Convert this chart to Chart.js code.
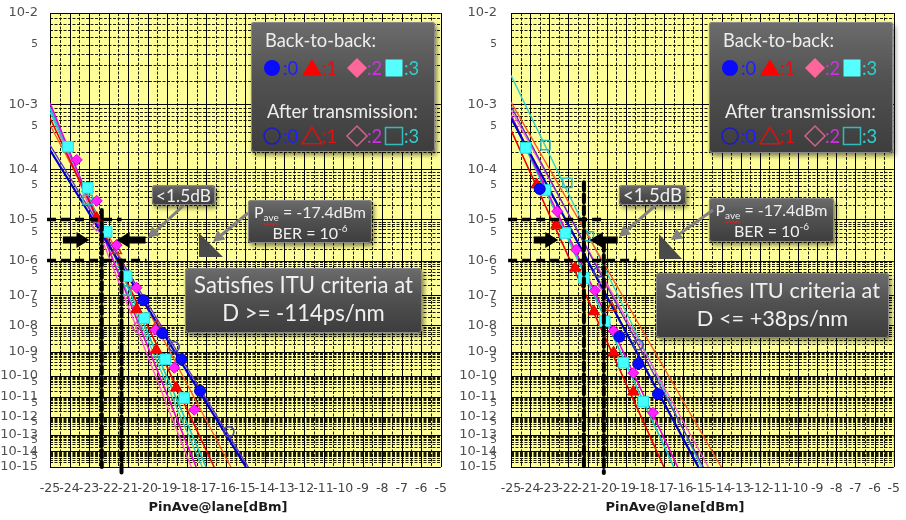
<!DOCTYPE html>
<html>
<head>
<meta charset="utf-8">
<title>BER vs received power</title>
<script src="https://cdn.jsdelivr.net/npm/chart.js@4.4.1/dist/chart.umd.min.js"></script>
<style>
  html, body { margin: 0; padding: 0; background: #fff; }
  #page { position: relative; width: 906px; height: 520px; overflow: hidden; }
  canvas { position: absolute; top: 0; }
</style>
</head>
<body>
<div id="page">
  <canvas id="chartLeft" width="453" height="520" style="left:0"></canvas>
  <canvas id="chartRight" width="453" height="520" style="left:453px"></canvas>
</div>
<script>
// axis ranges
const xMin = -25, xMax = -5;
const berTop = 1e-2, berBottom = 1e-15;
const berDecades = [2, 3, 4, 5, 6, 7, 8, 9, 10, 11, 12, 13, 14, 15];

// series order everywhere: back-to-back lane 0..3, after transmission lane 0..3

// ---- left panel (D >= -114ps/nm) ----
const leftB2B0X = [-20.22, -19.25, -18.28, -17.32];
const leftB2B0Ber = [7e-8, 5.2e-9, 5e-10, 2e-11];
const leftB2B1X = [-22.61, -20.58, -19.56, -18.54];
const leftB2B1Ber = [1.07e-5, 3.5e-8, 1.2e-9, 2.8e-11];
const leftB2B2X = [-23.63, -22.61, -21.59, -20.57, -19.6, -18.64, -17.62];
const leftB2B2Ber = [1.45e-4, 2.5e-5, 2.5e-6, 1.7e-7, 7e-9, 2.2e-10, 2.3e-12];
const leftB2B3X = [-24.08, -23.07, -22.1, -21.08, -20.17, -19.1, -18.13];
const leftB2B3Ber = [2.4e-4, 4.5e-5, 5.2e-6, 3.7e-7, 1.8e-8, 5e-10, 9e-12];
const leftTx0X = [-18.64, -15.84];
const leftTx0Ber = [1.6e-9, 1.5e-13];
const leftTx1X = [-21.59, -19.56];
const leftTx1Ber = [1.8e-6, 9.5e-9];
const leftTx2X = [-22.61, -20.57];
const leftTx2Ber = [7.2e-6, 8.5e-9];
const leftTx3X = [-23.07, -21.08];
const leftTx3Ber = [2.6e-5, 1.4e-7];
// fitted lines: BER at the left edge, power where they reach 1e-15
const leftFitStartBer = [2.12e-4, 6.5e-4, 1.04e-3, 8.9e-4, 2.55e-4, 5.2e-4, 9.2e-4, 7.9e-4];
const leftFitEndX = [-14.97, -16.6, -17.52, -17.01, -14.85, -15.74, -17.77, -17.21];

// ---- right panel (D <= +38ps/nm) ----
const rightB2B0X = [-23.5, -19.33, -18.35, -17.32];
const rightB2B0Ber = [4.3e-5, 3.9e-9, 3.3e-10, 1.4e-11];
const rightB2B1X = [-23.66, -22.63, -21.65, -20.67, -19.64, -18.61];
const rightB2B1Ber = [5.2e-5, 7.5e-6, 6.3e-7, 3e-8, 9.3e-10, 1.8e-11];
const rightB2B2X = [-22.58, -21.6, -20.62, -19.64, -18.61, -17.58];
const rightB2B2Ber = [1.5e-5, 1.9e-6, 1.4e-7, 6.3e-9, 1.3e-10, 1.6e-12];
const rightB2B3X = [-24.23, -23.2, -22.16, -21.19, -20.1, -19.12, -18.09];
const rightB2B3Ber = [2.3e-4, 4.1e-5, 4.9e-6, 3.3e-7, 1.4e-8, 3.6e-10, 6e-12];
const rightTx0X = [-20.41, -18.35];
const rightTx0Ber = [4.9e-7, 1.9e-9];
const rightTx1X = [-19.74];
const rightTx1Ber = [4e-8];
const rightTx2X = [-20.2];
const rightTx2Ber = [2e-7];
const rightTx3X = [-23.2, -22.06, -20.93];
const rightTx3Ber = [2.55e-4, 5.6e-5, 4.1e-6];
const rightFitStartBer = [6.5e-4, 4.35e-4, 7.2e-4, 6.9e-4, 9.5e-4, 1.07e-3, 8.4e-4, 2.3e-3];
const rightFitEndX = [-15.21, -17.01, -16.29, -16.49, -14.95, -14.02, -14.69, -15.05];

// BER axis: log10(-log10(BER)), drawn downwards
const yv = ber => Math.log10(-Math.log10(ber));

const styles = [
  { ps: 'circle',   r: 5.5, fill: '#0a0aff', edge: '#0000c0', line: '#0000cc', lw: 2.2 },
  { ps: 'triangle', r: 6.5, fill: '#ff0000', edge: '#e00000', line: '#e80000', lw: 1.6 },
  { ps: 'rectRot',  r: 5.5, fill: '#ff22ff', edge: '#e000e0', line: '#e600e6', lw: 1.6 },
  { ps: 'rect',     r: 7.5, fill: '#44ffff', edge: '#22dede', line: '#10c8d0', lw: 1.6 },
  { ps: 'circle',   r: 5,   fill: 'rgba(0,0,0,0)', edge: '#4040b0', line: '#5b2fc8', lw: 1.3 },
  { ps: 'triangle', r: 5.5, fill: 'rgba(0,0,0,0)', edge: '#cc3300', line: '#ff5522', lw: 1.3 },
  { ps: 'rectRot',  r: 5,   fill: 'rgba(0,0,0,0)', edge: '#cc55aa', line: '#ff55e0', lw: 1.3 },
  { ps: 'rect',     r: 6.5, fill: 'rgba(0,0,0,0)', edge: '#30b8b8', line: '#30d0d0', lw: 1.3 }
];

function buildDatasets(xs, bers, fitStart, fitEnd) {
  const out = [];
  xs.forEach((xArr, i) => {
    const s = styles[i];
    out.push({
      data: xArr.map((x, k) => ({ x, y: yv(bers[i][k]) })),
      showLine: false, pointStyle: s.ps, pointRadius: s.r,
      backgroundColor: s.fill, borderColor: s.edge, borderWidth: i < 4 ? 1 : 1.5,
      order: 0
    });
    out.push({
      data: [{ x: xMin, y: yv(fitStart[i]) }, { x: fitEnd[i], y: yv(berBottom) }],
      showLine: true, pointRadius: 0, borderColor: s.line, borderWidth: s.lw,
      order: 1
    });
  });
  return out;
}

// yellow plot area with the log-paper grid
const bgGrid = {
  id: 'bgGrid',
  beforeDatasetsDraw(chart) {
    const { ctx, chartArea: a, scales: { x, y } } = chart;
    ctx.save();
    ctx.fillStyle = '#ffff99';
    ctx.fillRect(a.left, a.top, a.width, a.height);
    ctx.lineWidth = 1;
    ctx.strokeStyle = '#1a1a00';
    ctx.setLineDash([3, 1.5]);
    ctx.beginPath();
    for (const d of berDecades) {
      for (let m = 2; m <= 9; m++) {
        const ber = m * Math.pow(10, -d);
        if (ber >= berTop) continue;
        const py = Math.round(y.getPixelForValue(yv(ber))) + 0.5;
        ctx.moveTo(a.left, py); ctx.lineTo(a.right, py);
      }
    }
    for (let v = xMin + 0.5; v < xMax; v += 1) {
      const px = Math.round(x.getPixelForValue(v)) + 0.5;
      ctx.moveTo(px, a.top); ctx.lineTo(px, a.bottom);
    }
    ctx.stroke();
    ctx.setLineDash([]);
    ctx.strokeStyle = '#000';
    ctx.beginPath();
    for (const d of berDecades) {
      const py = Math.round(y.getPixelForValue(yv(Math.pow(10, -d)))) + 0.5;
      ctx.moveTo(a.left, py); ctx.lineTo(a.right, py);
    }
    for (let v = xMin; v <= xMax; v += 1) {
      const px = Math.round(x.getPixelForValue(v)) + 0.5;
      ctx.moveTo(px, a.top); ctx.lineTo(px, a.bottom);
    }
    ctx.stroke();
    ctx.restore();
  }
};

function grayBox(ctx, x, y, w, h) {
  ctx.save();
  ctx.shadowColor = 'rgba(0,0,0,0.5)';
  ctx.shadowBlur = 5; ctx.shadowOffsetX = 2; ctx.shadowOffsetY = 3;
  const g = ctx.createLinearGradient(0, y, 0, y + h);
  g.addColorStop(0, '#6c6c6c'); g.addColorStop(0.45, '#515151'); g.addColorStop(1, '#3d3d3d');
  ctx.fillStyle = g;
  ctx.beginPath(); ctx.roundRect(x, y, w, h, 3); ctx.fill();
  ctx.restore();
  ctx.save();
  ctx.strokeStyle = '#8a8a8a'; ctx.lineWidth = 1;
  ctx.beginPath(); ctx.roundRect(x + 0.5, y + 0.5, w - 1, h - 1, 3); ctx.stroke();
  ctx.restore();
}

function fitSize(ctx, text, width, family) {
  ctx.font = '20px ' + family;
  return 20 * width / ctx.measureText(text).width;
}

function shape(ctx, kind, cx, cy, s) {
  ctx.beginPath();
  if (kind === 'circle') ctx.arc(cx, cy, s, 0, Math.PI * 2);
  else if (kind === 'triangle') {
    ctx.moveTo(cx, cy - s); ctx.lineTo(cx + s * 1.1, cy + s * 0.85); ctx.lineTo(cx - s * 1.1, cy + s * 0.85); ctx.closePath();
  } else if (kind === 'rectRot') {
    ctx.moveTo(cx, cy - s); ctx.lineTo(cx + s, cy); ctx.lineTo(cx, cy + s); ctx.lineTo(cx - s, cy); ctx.closePath();
  } else ctx.rect(cx - s * 0.85, cy - s * 0.85, s * 1.7, s * 1.7);
}

function blockArrow(ctx, x1, x2, y) {
  const dir = Math.sign(x2 - x1), head = 13, half = 8, shaft = 3.5;
  const hx = x2 - dir * head;
  ctx.beginPath();
  ctx.moveTo(x1, y - shaft); ctx.lineTo(hx, y - shaft); ctx.lineTo(hx, y - half);
  ctx.lineTo(x2, y); ctx.lineTo(hx, y + half); ctx.lineTo(hx, y + shaft); ctx.lineTo(x1, y + shaft);
  ctx.closePath(); ctx.fill();
}

function grayArrow(ctx, x1, y1, x2, y2) {
  const ang = Math.atan2(y2 - y1, x2 - x1), hl = 11, hw = 6;
  const bx = x2 - hl * Math.cos(ang), by = y2 - hl * Math.sin(ang);
  ctx.strokeStyle = '#808080'; ctx.fillStyle = '#808080'; ctx.lineWidth = 3;
  ctx.beginPath(); ctx.moveTo(x1, y1); ctx.lineTo(bx, by); ctx.stroke();
  ctx.beginPath(); ctx.moveTo(x2, y2);
  ctx.lineTo(bx + hw * Math.sin(ang), by - hw * Math.cos(ang));
  ctx.lineTo(bx - hw * Math.sin(ang), by + hw * Math.cos(ang));
  ctx.closePath(); ctx.fill();
}

const FONT = 'Lato, "Open Sans", sans-serif';

function makeOverlay(n) {
  return {
    id: 'overlay',
    afterDatasetsDraw(chart) {
      const { ctx, scales: { x, y } } = chart;
      ctx.save();
      // dashed guide lines
      ctx.strokeStyle = '#000';
      ctx.lineWidth = 3.5; ctx.setLineDash([9, 5]);
      n.hDash.forEach(([ber, xEnd]) => {
        const py = y.getPixelForValue(yv(ber));
        ctx.beginPath(); ctx.moveTo(x.getPixelForValue(n.hDashFrom), py); ctx.lineTo(x.getPixelForValue(xEnd), py); ctx.stroke();
      });
      ctx.lineWidth = 4; ctx.setLineDash([8, 4]); ctx.lineCap = 'round';
      n.vDash.forEach(([xv, b1, b2]) => {
        const px = x.getPixelForValue(xv);
        ctx.beginPath(); ctx.moveTo(px, y.getPixelForValue(yv(b1))); ctx.lineTo(px, y.getPixelForValue(yv(b2))); ctx.stroke();
      });
      ctx.setLineDash([]); ctx.lineCap = 'butt';
      // black arrows
      ctx.fillStyle = '#000';
      const ay = y.getPixelForValue(yv(n.arrowBer));
      n.blockArrows.forEach(([a, b]) => blockArrow(ctx, x.getPixelForValue(a), x.getPixelForValue(b), ay));

      // callout triangle
      ctx.fillStyle = '#4a4a4a';
      ctx.beginPath(); n.tri.forEach(([tx, ty], i) => i ? ctx.lineTo(tx, ty) : ctx.moveTo(tx, ty)); ctx.closePath(); ctx.fill();

      // legend box
      const [lx, ly, lw, lh] = n.legendBox;
      grayBox(ctx, lx, ly, lw, lh);
      const fs = fitSize(ctx, 'After transmission:', 151, FONT);
      ctx.font = fs + 'px ' + FONT;
      ctx.textAlign = 'left'; ctx.textBaseline = 'alphabetic';
      ctx.fillStyle = '#eeeeee';
      ctx.fillText('Back-to-back:', lx + 14, ly + 25);
      ctx.fillText('After transmission:', lx + 16, ly + 96);
      const cols = [21, 61, 106, 143], tcols = [32, 71, 116, 153];
      const fillLeg = ['#0a0aff', '#ff0000', '#ff6699', '#55ffff'];
      const edgeLeg = ['#1a1acc', '#dd1111', '#cc6688', '#33bbbb'];
      const txtLeg = ['#1f1fff', '#e01010', '#cc33dd', '#33cccc'];
      const kinds = ['circle', 'triangle', 'rectRot', 'rect'];
      for (let i = 0; i < 4; i++) {
        const s = kinds[i] === 'circle' ? 8 : kinds[i] === 'triangle' ? 9 : 10;
        shape(ctx, kinds[i], lx + cols[i], ly + 46, s);
        ctx.fillStyle = fillLeg[i]; ctx.fill();
        shape(ctx, kinds[i], lx + cols[i], ly + 114, s);
        ctx.strokeStyle = edgeLeg[i]; ctx.lineWidth = 1.5; ctx.stroke();
        ctx.fillStyle = txtLeg[i];
        ctx.fillText(':' + i, lx + tcols[i], ly + 53);
        ctx.fillText(':' + i, lx + tcols[i], ly + 121);
      }

      // "<1.5dB"
      const [dx, dy, dw, dh] = n.dbBox;
      grayBox(ctx, dx, dy, dw, dh);
      ctx.font = fitSize(ctx, '<1.5dB', dw - 8, FONT) + 'px ' + FONT;
      ctx.fillStyle = '#f0f0f0'; ctx.textAlign = 'center';
      ctx.fillText('<1.5dB', dx + dw / 2, dy + dh - 3);

      // Pave / BER box
      const [px0, py0, pw] = n.paveBox;
      grayBox(ctx, ...n.paveBox);
      const big = '16px ' + FONT, small = '10px ' + FONT;
      ctx.textAlign = 'left';
      ctx.font = big; const wP = ctx.measureText('P').width, wRest = ctx.measureText(' = -17.4dBm').width;
      ctx.font = small; const wSub = ctx.measureText('ave').width;
      let tx = px0 + (pw - wP - wSub - wRest) / 2;
      const b1 = py0 + 18;
      ctx.fillStyle = '#f0f0f0';
      ctx.font = big; ctx.fillText('P', tx, b1);
      ctx.font = small; ctx.fillText('ave', tx + wP, b1 + 3);
      ctx.strokeStyle = '#e02020'; ctx.lineWidth = 1;
      ctx.beginPath();
      for (let k = 0; k <= wSub; k += 2) ctx.lineTo(tx + wP + k, b1 + 6 + (k % 4 ? 1.2 : -1.2));
      ctx.stroke();
      ctx.font = big; ctx.fillText(' = -17.4dBm', tx + wP + wSub, b1);
      const wB = ctx.measureText('BER = 10').width;
      ctx.font = small; const wE = ctx.measureText('-6').width;
      tx = px0 + (pw - wB - wE) / 2;
      ctx.font = big; ctx.fillText('BER = 10', tx, py0 + 39);
      ctx.font = small; ctx.fillText('-6', tx + wB, py0 + 32);

      // ITU criteria box
      const [ix, iy, iw, ih] = n.ituBox;
      grayBox(ctx, ix, iy, iw, ih);
      ctx.font = fitSize(ctx, n.ituText[0], iw - 18, FONT) + 'px ' + FONT;
      ctx.fillStyle = '#f0f0f0'; ctx.textAlign = 'center';
      ctx.fillText(n.ituText[0], ix + iw / 2, iy + 25);
      ctx.fillText(n.ituText[1], ix + iw / 2, iy + 53);

      // gray pointer arrows
      n.grayArrows.forEach(a => grayArrow(ctx, ...a));

      // x axis title
      ctx.font = 'bold 13px "DejaVu Sans"';
      ctx.fillStyle = '#1a1a1a'; ctx.textAlign = 'center'; ctx.textBaseline = 'middle';
      ctx.fillText('PinAve@lane[dBm]', n.titleX, 508);
      ctx.restore();
    }
  };
}

function makeChart(id, datasets, notes, yAxisWidth, padRight, labelPad) {
  return new Chart(document.getElementById(id), {
    type: 'scatter',
    data: { datasets },
    options: {
      responsive: false,
      animation: false,
      layout: { padding: { left: 0, right: padRight, top: 13, bottom: 0 } },
      plugins: { legend: { display: false }, tooltip: { enabled: false } },
      scales: {
        x: {
          type: 'linear', min: xMin, max: xMax,
          grid: { display: false }, border: { display: false },
          ticks: {
            stepSize: 1, autoSkip: false, maxRotation: 0, minRotation: 0, padding: 6,
            color: '#444', font: { family: 'DejaVu Sans', size: 12.5 }
          },
          afterFit: s => { s.height = 53; }
        },
        y: {
          type: 'linear', reverse: true, min: yv(berTop), max: yv(berBottom),
          grid: { display: false }, border: { display: false },
          afterBuildTicks: s => {
            const t = berDecades.map(d => ({ value: yv(Math.pow(10, -d)), lbl: '10-' + d }));
            berDecades.slice(1).forEach(d => t.push({ value: yv(5 * Math.pow(10, -d)), lbl: '5' }));
            s.ticks = t;
          },
          afterFit: s => { s.width = yAxisWidth; },
          ticks: {
            autoSkip: false, padding: labelPad, color: '#505050',
            callback: (v, i, t) => t[i].lbl,
            font: c => ({ family: 'DejaVu Sans', size: c.tick && c.tick.lbl === '5' ? 10.5 : 13 })
          }
        }
      }
    },
    plugins: [bgGrid, makeOverlay(notes)]
  });
}

makeChart('chartLeft',
  buildDatasets(
    [leftB2B0X, leftB2B1X, leftB2B2X, leftB2B3X, leftTx0X, leftTx1X, leftTx2X, leftTx3X],
    [leftB2B0Ber, leftB2B1Ber, leftB2B2Ber, leftB2B3Ber, leftTx0Ber, leftTx1Ber, leftTx2Ber, leftTx3Ber],
    leftFitStartBer, leftFitEndX),
  {
    hDashFrom: -25.15,
    hDash: [[1e-5, -21.34], [1e-6, -20.06]],
    vDash: [[-22.35, 1.6e-5, 1e-15], [-21.34, 1e-6, 4e-16]],
    arrowBer: 3.35e-6,
    blockArrows: [[-24.34, -22.98], [-20.11, -21.59]],
    legendBox: [251, 22, 184, 130],
    dbBox: [152, 185, 63, 20],
    paveBox: [248, 200, 124, 43],
    ituBox: [185, 268, 237, 65],
    ituText: ['Satisfies ITU criteria at', 'D >= -114ps/nm'],
    tri: [[199, 233], [199, 257], [223, 257]],
    grayArrows: [[183, 206, 148, 238], [248, 213, 213, 242]],
    titleX: 218
  }, 50, 10, 4);

makeChart('chartRight',
  buildDatasets(
    [rightB2B0X, rightB2B1X, rightB2B2X, rightB2B3X, rightTx0X, rightTx1X, rightTx2X, rightTx3X],
    [rightB2B0Ber, rightB2B1Ber, rightB2B2Ber, rightB2B3Ber, rightTx0Ber, rightTx1Ber, rightTx2Ber, rightTx3Ber],
    rightFitStartBer, rightFitEndX),
  {
    hDashFrom: -25.15,
    hDash: [[1e-5, -20.15], [1e-6, -18.45]],
    vDash: [[-21.19, 5.8e-5, 1e-15], [-20.15, 2.8e-6, 4e-16]],
    arrowBer: 3.35e-6,
    blockArrows: [[-23.81, -22.53], [-19.43, -20.88]],
    legendBox: [256, 22, 184, 131],
    dbBox: [166, 185, 67, 20],
    paveBox: [256, 198, 125, 44],
    ituBox: [203, 273, 233, 65],
    ituText: ['Satisfies ITU criteria at', 'D <= +38ps/nm'],
    tri: [[206, 234], [206, 259], [229, 259]],
    grayArrows: [[203, 205, 166, 237], [260, 210, 218, 240]],
    titleX: 222
  }, 58, 10, 6);
</script>
</body>
</html>
